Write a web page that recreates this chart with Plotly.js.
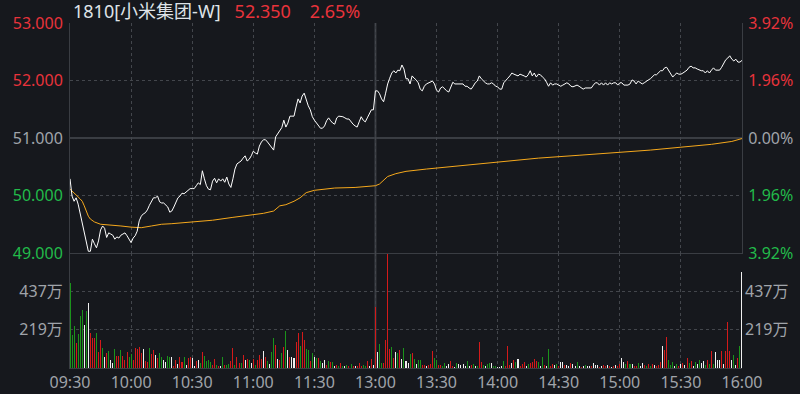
<!DOCTYPE html>
<html>
<head>
<meta charset="utf-8">
<script src="https://cdn.plot.ly/plotly-3.0.1.min.js"></script>
<style>
  html, body { margin: 0; padding: 0; background: #16181d; }
  #chart { width: 800px; height: 394px; }
</style>
</head>
<body>
<div id="chart"></div>
<script>
// ---------------- DATA ----------------
const stockCode = '1810[小米集团-W]';
const lastPrice = '52.350';
const changePct = '2.65%';
const prevClose = 51.0;

// x tick positions (minutes since 09:30, lunch break removed) and labels
const timeTicks = [0, 30, 60, 90, 120, 150, 180, 210, 240, 270, 300, 330];
const timeLabels = ['09:30', '10:00', '10:30', '11:00', '11:30', '13:00', '13:30', '14:00', '14:30', '15:00', '15:30', '16:00'];

// price axis ticks
const priceTicks = [49, 50, 51, 52, 53];
const priceLabels = ['49.000', '50.000', '51.000', '52.000', '53.000'];
const pctLabels = ['3.92%', '1.96%', '0.00%', '1.96%', '3.92%'];
const tickSign = ['d', 'd', 'n', 'u', 'u'];

// volume axis ticks (万)
const volTicks = [219, 437];
const volLabels = ['219万', '437万'];
const volMax = 657;

// minute price (one value per minute)
const price = [
  50.29,49.99,49.90,49.96,49.85,49.68,49.50,49.35,49.16,49.03,
  49.03,49.24,49.16,49.09,49.21,49.40,49.47,49.43,49.27,49.35,
  49.33,49.31,49.24,49.28,49.26,49.31,49.33,49.35,49.30,49.24,
  49.18,49.26,49.30,49.38,49.56,49.64,49.68,49.70,49.75,49.83,
  49.90,49.96,49.96,49.99,49.89,49.87,49.87,49.83,49.80,49.71,
  49.73,49.80,49.89,49.96,49.99,50.04,50.03,50.06,50.10,50.12,
  50.12,50.12,50.17,50.22,50.19,50.43,50.29,50.17,50.11,50.10,
  50.25,50.30,50.22,50.29,50.25,50.29,50.23,50.32,50.20,50.14,
  50.29,50.46,50.55,50.58,50.60,50.65,50.69,50.60,50.63,50.69,
  50.77,50.74,50.72,50.86,50.93,50.97,50.97,50.93,50.88,50.84,
  50.79,51.02,51.07,51.12,51.18,51.31,51.19,51.26,51.38,51.38,
  51.38,51.54,51.68,51.61,51.73,51.78,51.66,51.56,51.49,51.37,
  51.31,51.26,51.21,51.17,51.17,51.21,51.30,51.35,51.30,51.26,
  51.24,51.35,51.38,51.38,51.37,51.35,51.33,51.33,51.28,51.24,
  51.21,51.19,51.28,51.37,51.31,51.28,51.35,51.43,51.49,51.49,
  51.82,51.82,51.77,51.68,51.63,51.78,51.94,52.04,52.13,52.17,
  52.13,52.18,52.17,52.27,52.20,52.03,52.03,51.94,52.08,52.04,
  52.01,51.96,51.85,51.82,51.90,51.94,51.96,51.97,51.99,51.94,
  51.83,51.80,51.87,51.89,51.85,51.82,51.80,51.90,51.97,51.94,
  51.94,51.94,51.94,51.94,51.90,51.90,51.87,51.85,51.90,51.96,
  51.99,52.08,52.03,51.99,51.96,51.94,51.94,51.96,51.94,51.90,
  51.89,51.85,51.85,51.96,52.01,52.04,52.08,52.13,52.11,52.10,
  52.08,52.11,52.10,52.08,52.06,52.10,52.17,52.08,52.13,52.06,
  52.11,52.10,52.06,52.03,51.97,51.90,51.96,51.92,51.94,51.94,
  51.92,51.90,51.92,51.94,51.96,51.94,51.90,51.89,51.90,51.92,
  51.90,51.87,51.85,51.87,51.87,51.87,51.87,51.92,51.96,51.96,
  51.92,51.96,51.92,51.96,51.92,51.96,51.94,51.96,51.96,51.92,
  51.96,51.96,51.92,51.92,51.92,51.94,52.01,51.99,51.94,51.99,
  51.96,51.94,51.96,51.99,52.01,52.03,52.06,52.10,52.10,52.13,
  52.17,52.17,52.22,52.23,52.18,52.13,52.06,52.10,52.13,52.11,
  52.11,52.13,52.15,52.18,52.23,52.25,52.22,52.22,52.20,52.18,
  52.17,52.17,52.13,52.17,52.13,52.18,52.22,52.18,52.18,52.18,
  52.23,52.30,52.36,52.39,52.43,52.37,52.34,52.37,52.32,52.32,52.35
];

// average price line readings
const avgMinute = [0,1,3,5,6,7,8,9,10,12,15,20,25,30,35,40,45,50,60,70,80,90,95,100,103,106,110,113,116,120,125,130,140,149,150,152,154,156,160,165,175,190,210,230,250,270,285,300,315,325,330];
const avgPrice = [50.11,50.08,50.01,49.94,49.90,49.82,49.73,49.64,49.59,49.54,49.50,49.49,49.47,49.45,49.44,49.47,49.50,49.51,49.54,49.57,49.62,49.66,49.69,49.73,49.82,49.84,49.90,49.96,50.05,50.09,50.11,50.13,50.14,50.16,50.17,50.20,50.27,50.33,50.38,50.42,50.46,50.51,50.58,50.65,50.70,50.75,50.79,50.84,50.89,50.94,50.99];

// minute volume (万) and direction (R up, G down, W flat)
const volume = [
  484,188,240,144,196,298,332,246,327,373,
  202,169,169,200,90,160,113,61,86,96,
  48,27,108,67,67,102,67,44,90,61,
  81,48,113,108,121,86,108,38,35,113,
  81,102,73,56,86,61,44,35,67,61,
  61,10,44,23,65,35,65,19,56,61,
  56,10,38,44,29,90,71,38,44,33,
  17,50,17,13,13,61,19,19,23,38,
  113,19,61,27,27,73,44,50,44,
  27,50,17,44,73,50,96,61,38,23,
  90,169,130,50,44,85,119,211,102,61,
  65,56,148,200,125,206,160,108,102,38,
  85,61,56,56,38,27,44,17,38,33,
  33,13,17,13,27,13,13,17,10,23,
  10,13,10,27,13,
  17,13,38,13,50,17,
  351,90,
  138,29,29,161,653,109,121,58,92,86,
  104,52,115,40,29,81,86,52,23,46,
  46,17,17,12,17,23,98,58,46,17,
  17,12,29,12,23,40,12,6,29,23,
  17,23,12,40,12,17,23,12,12,150,
  35,17,12,23,29,29,12,12,6,6,
  12,40,12,127,17,29,46,35,52,12,
  23,35,12,23,29,35,52,40,35,12,
  63,17,12,109,12,23,17,23,12,35,
  35,17,17,12,29,23,12,35,12,
  6,12,17,
  12,12,12,29,17,17,
  6,12,17,12,17,12,6,12,17,12,
  23,58,35,23,40,23,23,12,12,29,
  12,29,17,12,23,12,23,17,12,17,
  35,127,104,179,46,17,35,12,23,12,
  23,29,17,58,29,40,12,35,23,46,
  29,40,17,
  46,23,98,23,92,46,
  46,98,23,98,265,98,46,75,17,58,127,548
];
const volDir = (
  'GGGRGGGWGW' + 'RRRGRRGWRG' + 'WWGRRGRRRG' + 'GRRRRRWRRG' +
  'RRWRGGWWGG' + 'WRRWRRGWRR' + 'WWRWGRGGGG' + 'RRGRWGRGGR' +
  'RGRRGRWRG' +
  'WRGRRRWRGW' + 'GGRWRGRGWR' + 'WWRRGRRGGR' + 'GWGRGWWRGR' + 'GWRGRGWGRG' +
  'RWRRR' + 'GGRWRW' +
  'RW' +
  'GGRRRRGRWG' + 'RWGWWGRGWG' + 'GRRWRRRGGR' + 'RGGWWRRWGW' + 'WWWGWRGWGR' +
  'RGWGGWGGWW' + 'WGRRRWRGWR' + 'RRWGRRRRGW' + 'GRWGRRWGRW' +
  'WRWWRWWGW' + 'RWG' + 'WWRWWW' +
  'RWRRWRWRWR' + 'RWWGRGWRRG' + 'WWRGRGRWRR' + 'RWRRGGGWGR' + 'WRWRGRWGWG' +
  'WWG' + 'RGRGWW' + 'WRWRRRWGWRGW'
).split('');

// ---------------- STYLE ----------------
const BG = '#16181d';
const RED = '#e8333b';
const GREEN = '#22bb4a';
const GRAY = '#a0a4aa';
const SOLID = '#3a3d43';
const DOT = '#43464c';
const FONT = 'Noto Sans, Noto Sans CJK SC, sans-serif';
const dirColor = { R: '#d41a1a', G: '#1b931b', W: '#f0f0f0' };
const signColor = { u: RED, d: GREEN, n: GRAY };

const minutes = price.map((_, i) => i);
const volMinutes = volume.map((_, i) => i);

const colored = (labels) => labels.map((t, i) => `<span style="color:${signColor[tickSign[i]]}">${t}</span>`);

const traces = [
  { x: avgMinute, y: avgPrice, type: 'scatter', mode: 'lines',
    line: { color: '#f5a81c', width: 1 }, xaxis: 'x', yaxis: 'y', hoverinfo: 'skip' },
  { x: minutes, y: price, type: 'scatter', mode: 'lines',
    line: { color: '#ffffff', width: 1 }, xaxis: 'x', yaxis: 'y', hoverinfo: 'skip' },
  { x: [], y: [], type: 'scatter', xaxis: 'x', yaxis: 'y3' },
  { x: volMinutes, y: volume, type: 'bar', width: 0.5,
    marker: { color: volDir.map(d => dirColor[d]), line: { width: 0 } },
    xaxis: 'x2', yaxis: 'y2', hoverinfo: 'skip' },
  { x: [], y: [], type: 'scatter', xaxis: 'x2', yaxis: 'y4' }
];

const split = 115 / 345;
const commonX = {
  range: [timeTicks[0], timeTicks[timeTicks.length - 1]],
  tickmode: 'array', tickvals: timeTicks, ticktext: timeLabels,
  showgrid: true, gridcolor: DOT, griddash: 'dot', gridwidth: 1,
  zeroline: false, ticks: '', showline: true, linecolor: SOLID, linewidth: 1,
  fixedrange: true
};

const gap = timeTicks[timeLabels.indexOf('13:00')];

const layout = {
  width: 800, height: 394,
  paper_bgcolor: BG, plot_bgcolor: BG,
  margin: { l: 70, r: 58, t: 23, b: 26, pad: 0 },
  showlegend: false,
  bargap: 0,
  font: { family: FONT, size: 16, color: GRAY },
  title: {
    text: `${stockCode}\u00a0\u00a0\u00a0<span style="color:${RED}">${lastPrice}\u00a0\u00a0\u00a0\u00a0${changePct}</span>`,
    font: { family: FONT, size: 18, color: '#dfe3e8' },
    x: 73 / 800, xanchor: 'left', xref: 'container',
    y: 1 - 12 / 394, yanchor: 'middle', yref: 'container'
  },
  xaxis: Object.assign({}, commonX, { anchor: 'y', domain: [0, 1], showticklabels: false }),
  xaxis2: Object.assign({}, commonX, { anchor: 'y2', domain: [0, 1], showticklabels: true,
    tickfont: { family: FONT, size: 16, color: GRAY } }),
  yaxis: {
    domain: [split, 1], range: [priceTicks[0], priceTicks[priceTicks.length - 1]],
    tickmode: 'array', tickvals: priceTicks, ticktext: colored(priceLabels),
    showgrid: false, zeroline: false, ticks: '', showline: true, linecolor: SOLID,
    tickfont: { family: FONT, size: 16 }, fixedrange: true, ticklabelstandoff: 3
  },
  yaxis3: {
    overlaying: 'y', side: 'right', anchor: 'x',
    range: [priceTicks[0], priceTicks[priceTicks.length - 1]],
    tickmode: 'array', tickvals: priceTicks, ticktext: colored(pctLabels),
    showgrid: false, zeroline: false, ticks: '', showline: true, linecolor: SOLID,
    tickfont: { family: FONT, size: 16 }, fixedrange: true, ticklabelstandoff: 2
  },
  yaxis2: {
    domain: [0, split], range: [0, volMax], anchor: 'x2',
    tickmode: 'array', tickvals: volTicks, ticktext: volLabels,
    showgrid: true, gridcolor: DOT, griddash: 'dot',
    zeroline: false, ticks: '', showline: true, linecolor: SOLID,
    tickfont: { family: FONT, size: 16, color: GRAY }, fixedrange: true, ticklabelstandoff: 3
  },
  yaxis4: {
    overlaying: 'y2', side: 'right', anchor: 'x2', range: [0, volMax],
    tickmode: 'array', tickvals: volTicks, ticktext: volLabels,
    showgrid: false, zeroline: false, ticks: '', showline: false,
    tickfont: { family: FONT, size: 16, color: GRAY }, fixedrange: true, ticklabelstandoff: 2
  },
  shapes: [
    // dotted price grid lines (inner ticks other than previous close)
    ...priceTicks.slice(1, -1).filter(v => v !== prevClose).map(v => ({
      type: 'line', xref: 'x domain', yref: 'y', x0: 0, x1: 1, y0: v, y1: v,
      line: { color: DOT, width: 1, dash: 'dot' }, layer: 'below'
    })),
    // previous close solid line
    { type: 'line', xref: 'x domain', yref: 'y', x0: 0, x1: 1, y0: prevClose, y1: prevClose,
      line: { color: SOLID, width: 2 }, layer: 'below' },
    // lunch break separator
    { type: 'line', xref: 'x', yref: 'paper', x0: gap, x1: gap, y0: 0, y1: 1,
      line: { color: SOLID, width: 2 }, layer: 'below' }
  ]
};

Plotly.newPlot('chart', traces, layout, { displayModeBar: false, staticPlot: true });
</script>
</body>
</html>
